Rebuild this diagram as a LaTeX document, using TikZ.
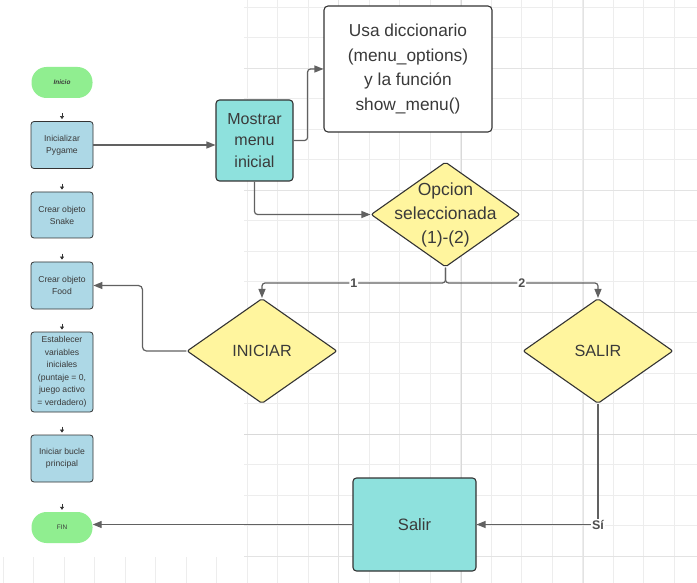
\documentclass[tikz,border=0pt]{standalone}
\usepackage{fontspec}
\setmainfont{Liberation Sans}
\usetikzlibrary{shapes.geometric,arrows.meta}
\definecolor{gridc}{HTML}{EDEDED}
\definecolor{gridm}{HTML}{E3E3E3}
\definecolor{gridM}{HTML}{D9D9D9}
\definecolor{pill}{HTML}{90EE90}
\definecolor{lblue}{HTML}{ADD8E6}
\definecolor{turq}{HTML}{8EE1DD}
\definecolor{yel}{HTML}{FFF59E}
\definecolor{edgec}{HTML}{333333}
\definecolor{conn}{HTML}{616161}
\definecolor{txt}{HTML}{3A3A3A}
\begin{document}
\begin{tikzpicture}[x=1pt,y=-1pt,
  every node/.style={text=txt},
  pillnode/.style={rectangle,rounded corners=15pt,fill=pill,draw=none,minimum width=61pt,minimum height=31pt,inner sep=0pt,font=\fontsize{6.5}{8}\selectfont},
  smallbox/.style={rectangle,rounded corners=3pt,fill=lblue,draw=edgec,line width=0.8pt,minimum width=62pt,inner sep=0pt,align=center,font=\fontsize{8.6}{12}\selectfont},
  turqbox/.style={rectangle,rounded corners=3.5pt,fill=turq,draw=edgec,line width=1.1pt,inner sep=0pt,align=center},
  notebox/.style={rectangle,rounded corners=4pt,fill=white,draw=edgec,line width=1.1pt,inner sep=0pt,align=center},
  dia/.style={diamond,fill=yel,draw=edgec,line width=1.1pt,inner sep=0pt,rounded corners=2pt,minimum width=150pt,minimum height=105pt},
  diatext/.style={align=center,inner sep=0pt},
  arr/.style={draw=conn,line width=1.2pt,-{Triangle[length=9pt,width=7pt]}},
  tinyarr/.style={draw=edgec,line width=0.6pt,-{Triangle[length=3pt,width=4pt]}},
  lbl/.style={fill=white,inner sep=1pt,font=\fontsize{12.5}{14}\selectfont\bfseries,text=txt!90}
]
\useasboundingbox (0,0) rectangle (697,583);
% background grid
\fill[white] (0,0) rectangle (697,583);
\foreach \k in {0,...,18}{
  \pgfmathsetmacro{\yy}{7.3+30.5*\k}
  \draw[gridc,line width=0.7pt] (244,\yy) -- (697,\yy);
}
\foreach \k in {0,...,14}{
  \pgfmathsetmacro{\xx}{247.3+30.5*\k}
  \draw[gridc,line width=0.7pt] (\xx,0) -- (\xx,583);
}
\foreach \k in {0,...,7}{
  \pgfmathsetmacro{\xx}{3.3+30.5*\k}
  \draw[gridc,line width=0.7pt] (\xx,557) -- (\xx,583);
}
\foreach \k in {2,6,10,18}{
  \pgfmathsetmacro{\yy}{7.3+30.5*\k}
  \draw[gridm,line width=0.9pt] (244,\yy) -- (697,\yy);
}
\foreach \xx in {338.8,583.3}{
  \draw[gridm,line width=0.9pt] (\xx,0) -- (\xx,583);
}
\draw[gridM,line width=1.4pt] (244,434.3) -- (697,434.3);
\draw[gridM,line width=1.4pt] (461.3,0) -- (461.3,583);

% left column
\node[pillnode,font=\fontsize{6.5}{8}\selectfont\bfseries\itshape] (ini) at (62,82.5) {Inicio};
\node[smallbox,minimum height=47pt] (pyg) at (62,145) {Inicializar\\Pygame};
\node[smallbox,minimum height=46pt] (snake) at (62,215) {Crear objeto\\Snake};
\node[smallbox,minimum height=47pt] (food) at (62,285.5) {Crear objeto\\Food};
\node[smallbox,minimum height=80pt,font=\fontsize{8.6}{12.5}\selectfont] (vars) at (62,372) {Establecer\\variables\\iniciales\\(puntaje = 0,\\juego activo\\= verdadero)};
\node[smallbox,minimum height=47pt] (bucle) at (62,458.5) {Iniciar bucle\\principal};
\node[pillnode] (fin) at (62,527.5) {FIN};

\foreach \n in {pyg,snake,food,vars,bucle,fin}{
  \draw[tinyarr] ([yshift=8pt]\n.north) -- ([yshift=2pt]\n.north);
}

% main nodes
\node[turqbox,minimum width=77pt,minimum height=81pt,font=\fontsize{16}{21.7}\selectfont] (mostrar) at (254.5,140.5) {Mostrar\\menu\\inicial};
\node[notebox,minimum width=168pt,minimum height=126pt,font=\fontsize{17.3}{24.5}\selectfont] (usa) at (408,69) {Usa diccionario\\(menu\_options)\\y la función\\show\_menu()};
\node[dia,minimum width=149pt,minimum height=105pt] (opc) at (445.5,214.5) {};
\node[diatext,font=\fontsize{17.5}{24}\selectfont] (opct) at (445.5,214.5) {Opcion\\seleccionada\\(1)-(2)};
\node[dia] (ini2) at (262,351) {};
\node[diatext,font=\fontsize{16.2}{20}\selectfont] (ini2t) at (262,351) {INICIAR};
\node[dia] (sal) at (598,351) {};
\node[diatext,font=\fontsize{16.2}{20}\selectfont] (salt) at (598,351) {SALIR};
\node[turqbox,minimum width=123pt,minimum height=93pt,font=\fontsize{16.5}{20}\selectfont] (salir) at (414.5,524.5) {Salir};

\coordinate (br) at (445.5,283);

% connectors
\draw[arr] (pyg.east) -- (pyg.east -| mostrar.west);
\draw[arr,rounded corners=3pt] (mostrar.east) -- ++(14,0) |- (usa.west);
\draw[arr,rounded corners=3pt] (mostrar.south) |- (opc.west);
\draw[arr,rounded corners=3pt] (opc.south) -- (br) -| node[pos=0.25,lbl]{1} (ini2.north);
\draw[arr,rounded corners=3pt] (opc.south) -- (br) -| node[pos=0.25,lbl]{2} (sal.north);
\draw[arr,rounded corners=4pt] (ini2.west) -- ++(-44,0) |- (food.east);
\draw[arr] (sal.south) |- node[pos=0.5,lbl]{Sí} (salir.east);
\draw[arr] (salir.west) -- (salir.west -| fin.east);
\end{tikzpicture}
\end{document}
